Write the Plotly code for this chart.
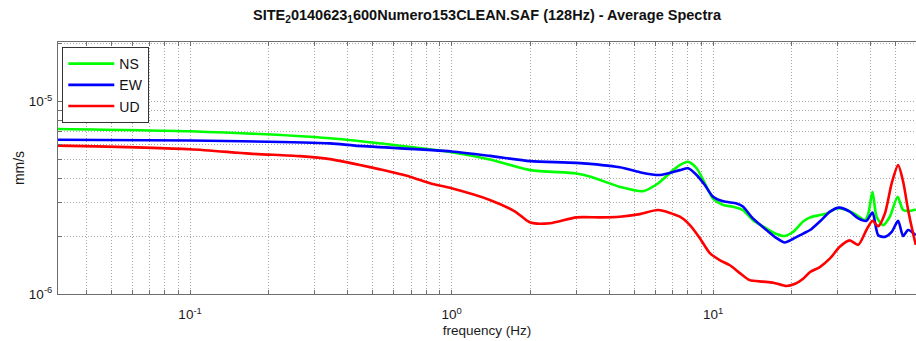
import numpy as np
import plotly.graph_objects as go

# Average spectra per component (frequency in Hz, amplitude in mm/s)
ns_freq = [0.03125, 0.1, 0.343, 1.0, 1.4, 2.0, 3.0, 3.4, 4.4, 5.4, 6.17, 7.04, 7.46, 8.03,
           8.65, 9.3, 10.0, 10.93, 11.9, 13.0, 14.2, 16.0, 17.5, 18.7, 20.2, 22.1, 23.5,
           25.6, 27.2, 29.7, 32.4, 35.4, 38.1, 39.2, 40.7, 42.2, 44.7, 47.4, 50.8, 53.3,
           56.6, 59.6]
ns_vals = [7.2e-6, 7.0e-6, 6.44e-6, 5.45e-6, 5.0e-6, 4.4e-6, 4.23e-6, 4.07e-6, 3.6e-6,
           3.42e-6, 3.76e-6, 4.4e-6, 4.67e-6, 4.86e-6, 4.5e-6, 3.76e-6, 3.13e-6, 2.9e-6,
           2.84e-6, 2.73e-6, 2.42e-6, 2.19e-6, 2.05e-6, 2.0e-6, 2.1e-6, 2.38e-6, 2.5e-6,
           2.57e-6, 2.62e-6, 2.79e-6, 2.73e-6, 2.57e-6, 2.42e-6, 2.6e-6, 3.4e-6, 2.52e-6,
           2.28e-6, 2.52e-6, 3.2e-6, 2.73e-6, 2.7e-6, 2.75e-6]

ew_freq = [0.03125, 0.1, 0.343, 0.427, 1.0, 1.4, 2.0, 3.0, 4.4, 5.25, 6.26, 7.46, 8.03,
           8.65, 9.3, 10.0, 10.93, 12.3, 13.0, 14.2, 16.0, 17.5, 18.8, 20.2, 22.1, 23.5,
           25.6, 28.0, 30.4, 33.3, 35.9, 38.6, 40.7, 42.8, 45.4, 48.2, 51.0, 53.3, 55.7,
           59.6]
ew_vals = [6.33e-6, 6.27e-6, 6.06e-6, 5.9e-6, 5.5e-6, 5.22e-6, 4.9e-6, 4.8e-6, 4.55e-6,
           4.29e-6, 4.15e-6, 4.4e-6, 4.5e-6, 4.15e-6, 3.68e-6, 3.2e-6, 3.03e-6, 2.95e-6,
           2.85e-6, 2.47e-6, 2.15e-6, 1.95e-6, 1.85e-6, 1.93e-6, 2.06e-6, 2.15e-6, 2.38e-6,
           2.68e-6, 2.81e-6, 2.68e-6, 2.47e-6, 2.4e-6, 2.65e-6, 2.02e-6, 1.98e-6, 2.1e-6,
           2.4e-6, 2.0e-6, 2.15e-6, 2.02e-6]

ud_freq = [0.03125, 0.1, 0.169, 0.263, 0.343, 0.446, 0.532, 0.693, 0.827, 1.0, 1.4, 1.75,
           2.0, 2.38, 3.0, 3.7, 4.4, 5.25, 6.17, 7.46, 8.15, 8.9, 9.72, 10.6, 11.6, 12.7,
           13.8, 15.5, 17.0, 19.1, 20.6, 22.1, 23.5, 25.6, 28.0, 30.5, 33.3, 35.9, 38.6,
           40.7, 42.8, 45.4, 48.2, 51.0, 53.3, 55.7, 58.2, 59.6]
ud_vals = [5.9e-6, 5.65e-6, 5.36e-6, 5.2e-6, 5.02e-6, 4.68e-6, 4.44e-6, 4.07e-6, 3.76e-6,
           3.54e-6, 3.08e-6, 2.68e-6, 2.35e-6, 2.33e-6, 2.5e-6, 2.5e-6, 2.52e-6, 2.6e-6,
           2.73e-6, 2.52e-6, 2.28e-6, 1.95e-6, 1.63e-6, 1.5e-6, 1.41e-6, 1.28e-6, 1.18e-6,
           1.16e-6, 1.145e-6, 1.1e-6, 1.13e-6, 1.2e-6, 1.3e-6, 1.38e-6, 1.53e-6, 1.76e-6,
           1.9e-6, 1.8e-6, 2.15e-6, 2.4e-6, 2.25e-6, 2.62e-6, 3.76e-6, 4.67e-6, 3.84e-6,
           2.73e-6, 2.06e-6, 1.8e-6]

series = [("NS", ns_freq, ns_vals, "#00ff00"),
          ("EW", ew_freq, ew_vals, "#0000ff"),
          ("UD", ud_freq, ud_vals, "#ff0000")]

# Log-axis ticks: majors labelled, minors only carry grid lines
x_major = [0.1, 1, 10]
x_major_text = ["10<sup>-1</sup>", "10<sup>0</sup>", "10<sup>1</sup>"]
y_major = [1e-6, 1e-5]
y_major_text = ["10<sup>-6</sup>", "10<sup>-5</sup>"]

x_ticks, x_text = [], []
for dec in [0.01, 0.1, 1, 10]:
    for m in range(1, 10):
        v = m * dec
        x_ticks.append(v)
        x_text.append(x_major_text[x_major.index(dec)] if m == 1 and dec in x_major else "")
y_ticks, y_text = [], []
for i, dec in enumerate(y_major):
    for m in range(1, 10):
        y_ticks.append(m * dec)
        y_text.append(y_major_text[i] if m == 1 else "")

FONT = "Liberation Sans, Arial, Helvetica, sans-serif"
INK = "#1a1a1a"

fig = go.Figure()
for name, f, v, c in series:
    fig.add_trace(go.Scatter(x=f, y=v, name=name, mode="lines",
                             line=dict(color=c, width=2.6, shape="spline", smoothing=0.7)))

axis_common = dict(type="log", showline=True, linecolor="#6e6e6e", linewidth=1,
                   ticks="inside", ticklen=4, tickcolor="#6e6e6e",
                   showgrid=True, gridcolor="#a8a8a8", griddash="1px,2px", gridwidth=1,
                   zeroline=False, tickfont=dict(family=FONT, size=13.5, color=INK))

fig.update_layout(
    width=916, height=341,
    margin=dict(l=58, r=0, t=42, b=47),
    paper_bgcolor="white", plot_bgcolor="white",
    title=dict(text="SITE<sub>2</sub>0140623<sub>1</sub>600Numero153CLEAN.SAF (128Hz) - Average Spectra",
               font=dict(family=FONT, size=14.5, color="#111111", weight="bold"),
               x=0.5, xref="paper", xanchor="center", y=0.955, yanchor="middle"),
    xaxis=dict(axis_common, range=[np.log10(1 / 32), 1.776], mirror="ticks",
               tickvals=x_ticks, ticktext=x_text, ticklabelstandoff=8,
               title=dict(text="frequency (Hz)", standoff=4,
                          font=dict(family=FONT, size=13.5, color=INK))),
    yaxis=dict(axis_common, range=[-6, -4.691], tickvals=y_ticks, ticktext=y_text,
               ticklabelstandoff=2,
               title=dict(text="mm/s", standoff=0,
                          font=dict(family=FONT, size=14, color=INK))),
    legend=dict(x=0.005, y=0.98, xanchor="left", yanchor="top",
                bgcolor="white", bordercolor="#333333", borderwidth=1,
                font=dict(family=FONT, size=14, color="#111111"),
                itemwidth=46, tracegroupgap=0),
    showlegend=True,
)

fig.write_html("out.html")
